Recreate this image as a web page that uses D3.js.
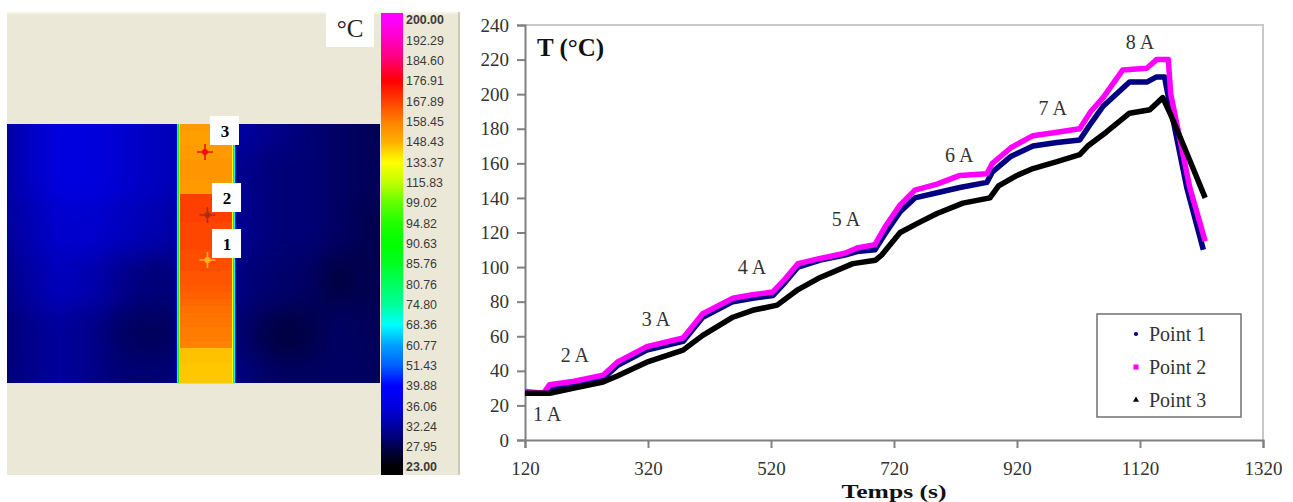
<!DOCTYPE html>
<html>
<head>
<meta charset="utf-8">
<script src="https://cdnjs.cloudflare.com/ajax/libs/d3/7.8.5/d3.min.js"></script>
<style>
  body { margin: 0; background: #fff; }
  svg { display: block; }
  .chart text { font-family: "Liberation Serif", serif; fill: #333; }
  .axis path, .axis line { stroke: #808080; stroke-width: 2px; }
  .axis text { font-size: 19px; }
  .scale-label { font-family: "Liberation Sans", sans-serif; font-size: 12.4px; fill: #3a3a3a; }
</style>
</head>
<body>
<div id="area"></div>
<script>
// curve data
var times1 = [120,150,160,200,247,270,318,377,409,458,490,523,540,564,600,640,660,689,705,730,754,790,827,871,880,910,946,985,1022,1040,1060,1103,1131,1147,1160,1163,1196,1223];
var point1 = [27,27,30,32,35.5,43,52,57,71,80,82,83.5,90,100,104,107,109,110,119,132,140,143,146,149,155,164,170,172,173.5,183,193,207,207,210,210,204,146,110];

var times2 = [120,150,160,200,247,270,318,377,409,458,490,523,540,564,600,640,660,689,705,730,754,790,827,871,880,910,946,985,1022,1040,1060,1092,1131,1147,1166,1170,1201,1226];
var point2 = [28,27,32,34,37.5,45,54,59,73,82,84,85.6,92,102,105,108,111,113,123,136,144.5,148,153,154,160,169,176,178,180,190,198,214,215,220,220,200,146,115];

var times3 = [120,160,200,247,270,318,377,409,458,490,530,564,600,653,690,700,730,762,790,832,876,890,920,946,985,1022,1035,1065,1103,1136,1157,1170,1196,1226];
var point3 = [27,27,30,33.5,37,45,52,60.5,71,75,78,87,94,102,104,107,120,126,131,137,140,147,153,157,161,165,170,178,189,191,198,188,166,140];

var xTicks = [120,320,520,720,920,1120,1320];
var yTicks = [0,20,40,60,80,100,120,140,160,180,200,220,240];

var currentLabels = ["1 A","2 A","3 A","4 A","5 A","6 A","7 A","8 A"];
var currentTimes = [156,201,333,489,642,826,978,1120];
var currentTemps = [15,49,70,100,128,165,192,230];

var legendNames = ["Point 1","Point 2","Point 3"];
var seriesColors = ["#000080","#ff00ff","#000000"];

// thermal colour bar
var barLabels = ["200.00","192.29","184.60","176.91","167.89","158.45","148.43","133.37","115.83","99.02","94.82","90.63","85.76","80.76","74.80","68.36","60.77","51.43","39.88","36.06","32.24","27.95","23.00"];
var barColors = ["#ff00ff","#ff00c0","#ff0070","#ff0000","#ff4000","#ff8000","#ffb000","#ffff00","#c0ff00","#60ff00","#20ff00","#00ff00","#00ff20","#00ff60","#00ff98","#00ffff","#00a0ff","#0060ff","#0000ff","#0000e0","#0000a0","#000050","#000000"];

// plate temperatures, rows top to bottom
var leftPlate = [
  [31,34,36,36,35,34,33],
  [31,34,36,36,35,34,33],
  [31,33,35,35,34,33,32],
  [30,32,34,33,31,30,31],
  [29,31,32,31,29,28.5,30],
  [30,31,32,31,30,30,31]
];
var rightPlate = [
  [33,32,31,30,29,28.5,28],
  [32,31,30,30,29,28.5,28],
  [32,31,30,30,29,28,28],
  [32,30,29.5,29,27,28,28],
  [31,29,27,27.5,29,28.5,28],
  [32,30,29,29,29,29,28]
];
var stripTemps = [153,152,152,153,153,154,154,154,153,153,
  168,168,168,168,167,167,167,167,166,166,166,165,165,164,163,162,161,160,160,159,159,158,
  145,145,144,144,144];
var leftEdge = [40,68,90,133];
var rightEdge = [133,90,68,42];

var hotspotNames = ["3","2","1"];
var hotspotColors = ["#f01010","#a83010","#ffb020"];

var fullwidth = 1293, fullheight = 502;
var margin = {top: 25, right: 30, bottom: 62, left: 525};
var width = fullwidth - margin.left - margin.right;
var height = fullheight - margin.top - margin.bottom;

var svg = d3.select("#area").append("svg")
  .attr("width", fullwidth)
  .attr("height", fullheight);

var defs = svg.append("defs");

var tempColor = d3.scaleLinear()
  .domain(barLabels.map(Number))
  .range(barColors)
  .clamp(true);

// ---------- left panel ----------
var thermal = svg.append("g");

thermal.append("rect")
  .attr("x", 7).attr("y", 12).attr("width", 453).attr("height", 463)
  .attr("fill", "#ebe8d8");
thermal.append("rect")
  .attr("x", 7).attr("y", 12).attr("width", 453).attr("height", 2)
  .attr("fill", "#f6f3e6");
thermal.append("rect")
  .attr("x", 458).attr("y", 12).attr("width", 2).attr("height", 463)
  .attr("fill", "#cdc9ba");

defs.append("filter").attr("id", "soft")
  .attr("x", "-20%").attr("y", "-20%").attr("width", "140%").attr("height", "140%")
  .append("feGaussianBlur").attr("stdDeviation", 12);

function plate(id, grid, x0, x1) {
  defs.append("clipPath").attr("id", id)
    .append("rect").attr("x", x0).attr("y", 124).attr("width", x1 - x0).attr("height", 259);

  var cols = d3.scaleBand().domain(d3.range(grid[0].length)).range([x0 - 30, x1 + 30]);
  var rows = d3.scaleBand().domain(d3.range(grid.length)).range([94, 413]);

  var g = thermal.append("g").attr("clip-path", "url(#" + id + ")")
    .append("g").attr("filter", "url(#soft)");

  grid.forEach(function(row, r) {
    g.selectAll(null)
      .data(row)
      .enter()
      .append("rect")
      .attr("x", function(d, c) { return cols(c); })
      .attr("y", rows(r))
      .attr("width", cols.bandwidth() + 1)
      .attr("height", rows.bandwidth() + 1)
      .attr("fill", function(d) { return tempColor(d); });
  });
}
plate("clipLeft", leftPlate, 7, 177);
plate("clipRight", rightPlate, 235, 380);

var stripY = d3.scaleBand().domain(d3.range(stripTemps.length)).range([124, 383]);
thermal.selectAll("rect.strip")
  .data(stripTemps)
  .enter()
  .append("rect")
  .attr("class", "strip")
  .attr("x", 177)
  .attr("y", function(d, i) { return stripY(i); })
  .attr("width", 58)
  .attr("height", stripY.bandwidth() + 0.5)
  .attr("fill", function(d) { return tempColor(d); });

function edge(temps, x0) {
  var ex = d3.scaleBand().domain(d3.range(temps.length)).range([x0, x0 + 4]);
  thermal.selectAll(null)
    .data(temps)
    .enter()
    .append("rect")
    .attr("x", function(d, i) { return ex(i); })
    .attr("y", 124)
    .attr("width", ex.bandwidth())
    .attr("height", 259)
    .attr("fill", function(d) { return tempColor(d); });
}
edge(leftEdge, 176);
edge(rightEdge, 232);

// colour bar
var barY = d3.scalePoint().domain(barLabels).range([20, 467]);

var grad = defs.append("linearGradient").attr("id", "barGrad")
  .attr("x1", 0).attr("x2", 0).attr("y1", 0).attr("y2", 1);
grad.selectAll("stop")
  .data(barLabels)
  .enter()
  .append("stop")
  .attr("offset", function(d, i) { return i / (barLabels.length - 1); })
  .attr("stop-color", function(d, i) { return barColors[i]; });

thermal.append("rect")
  .attr("x", 381).attr("y", 13).attr("width", 22).attr("height", 7)
  .attr("fill", barColors[0]);
thermal.append("rect")
  .attr("x", 381).attr("y", 20).attr("width", 22).attr("height", 447)
  .attr("fill", "url(#barGrad)");
thermal.append("rect")
  .attr("x", 381).attr("y", 467).attr("width", 22).attr("height", 8)
  .attr("fill", barColors[barColors.length - 1]);

thermal.selectAll("text.scale-label")
  .data(barLabels)
  .enter()
  .append("text")
  .attr("class", "scale-label")
  .attr("x", 406)
  .attr("y", function(d) { return barY(d); })
  .attr("dy", "0.36em")
  .style("font-weight", function(d, i) { return (i == 0 || i == barLabels.length - 1) ? "bold" : "normal"; })
  .text(function(d) { return d; });

// label boxes
var boxes = [[210,116],[212,183],[212,229]];
var crosses = [[205,152],[207.5,215],[207.5,260]];

hotspotNames.forEach(function(name, i) {
  var c = crosses[i], b = boxes[i];
  thermal.append("path")
    .attr("d", "M" + (c[0] - 8) + "," + c[1] + "H" + (c[0] + 8) + "M" + c[0] + "," + (c[1] - 8) + "V" + (c[1] + 8))
    .attr("stroke", hotspotColors[i])
    .attr("stroke-width", 1.6);
  thermal.append("circle")
    .attr("cx", c[0]).attr("cy", c[1]).attr("r", 3)
    .attr("fill", hotspotColors[i]);
  thermal.append("rect")
    .attr("x", b[0]).attr("y", b[1]).attr("width", 29).attr("height", 29)
    .attr("fill", "#fff");
  thermal.append("text")
    .attr("x", b[0] + 15).attr("y", b[1] + 15)
    .attr("dy", "0.36em")
    .attr("text-anchor", "middle")
    .style("font-family", "'Liberation Serif', serif")
    .style("font-weight", "bold")
    .style("font-size", "17px")
    .text(name);
});

thermal.append("rect")
  .attr("x", 326).attr("y", 12).attr("width", 48).attr("height", 35)
  .attr("fill", "#fff");
thermal.append("text")
  .attr("x", 350).attr("y", 28)
  .attr("dy", "0.36em")
  .attr("text-anchor", "middle")
  .style("font-family", "'Liberation Serif', serif")
  .style("font-size", "25px")
  .attr("fill", "#222")
  .text("°C");

// ---------- right panel ----------
var chart = svg.append("g")
  .attr("class", "chart")
  .attr("transform", "translate(" + margin.left + "," + margin.top + ")");

var xScale = d3.scaleLinear().domain([120, 1320]).range([0, width]);
var yScale = d3.scaleLinear().domain([0, 240]).range([height, 0]);

chart.append("path")
  .attr("d", "M0,0H" + width + "V" + height)
  .attr("fill", "none")
  .attr("stroke", "#c8c8c8")
  .attr("stroke-width", 2);

var xAxis = d3.axisBottom(xScale)
  .tickValues(xTicks)
  .tickSize(8)
  .tickSizeOuter(8)
  .tickPadding(14)
  .tickFormat(function(d) { return d; });

var yAxis = d3.axisLeft(yScale)
  .tickValues(yTicks)
  .tickSize(8)
  .tickSizeOuter(8)
  .tickPadding(8)
  .tickFormat(function(d) { return d; });

chart.append("g")
  .attr("class", "x axis")
  .attr("transform", "translate(0," + height + ")")
  .call(xAxis);

chart.append("g")
  .attr("class", "y axis")
  .call(yAxis);

var line = d3.line()
  .x(function(d) { return xScale(d[0]); })
  .y(function(d) { return yScale(d[1]); });

var series = [d3.zip(times1, point1), d3.zip(times2, point2), d3.zip(times3, point3)];

chart.selectAll("path.curve")
  .data(series)
  .enter()
  .append("path")
  .attr("class", "curve")
  .attr("d", line)
  .attr("fill", "none")
  .attr("stroke", function(d, i) { return seriesColors[i]; })
  .attr("stroke-width", 5.5)
  .attr("stroke-linejoin", "round");

chart.selectAll("text.current")
  .data(currentLabels)
  .enter()
  .append("text")
  .attr("class", "current")
  .attr("x", function(d, i) { return xScale(currentTimes[i]); })
  .attr("y", function(d, i) { return yScale(currentTemps[i]); })
  .attr("dy", "0.36em")
  .attr("text-anchor", "middle")
  .style("font-size", "20px")
  .text(function(d) { return d; });

chart.append("text")
  .attr("x", 12).attr("y", 22)
  .attr("dy", "0.36em")
  .style("font-size", "25px")
  .style("font-weight", "bold")
  .style("fill", "#111")
  .text("T (°C)");

chart.append("text")
  .attr("x", xScale(720)).attr("y", 472.5)
  .attr("text-anchor", "middle")
  .attr("textLength", 105)
  .attr("lengthAdjust", "spacingAndGlyphs")
  .style("font-size", "19.5px")
  .style("font-weight", "bold")
  .style("fill", "#111")
  .text("Temps (s)");

// legend
var legend = chart.append("g").attr("transform", "translate(572,289)");

legend.append("rect")
  .attr("width", 144).attr("height", 103)
  .attr("fill", "#fff")
  .attr("stroke", "#707070")
  .attr("stroke-width", 1.5);

var symbols = [d3.symbolCircle, d3.symbolSquare, d3.symbolTriangle];
var symbolSizes = [14, 26, 16];

var rows = legend.selectAll("g.row")
  .data(legendNames)
  .enter()
  .append("g")
  .attr("class", "row")
  .attr("transform", function(d, i) { return "translate(0," + (20 + i * 33) + ")"; });

rows.append("path")
  .attr("transform", "translate(39,0)")
  .attr("d", function(d, i) { return d3.symbol().type(symbols[i]).size(symbolSizes[i])(); })
  .attr("fill", function(d, i) { return seriesColors[i]; });

rows.append("text")
  .attr("x", 52)
  .attr("dy", "0.34em")
  .style("font-size", "20px")
  .text(function(d) { return d; });
</script>
</body>
</html>
